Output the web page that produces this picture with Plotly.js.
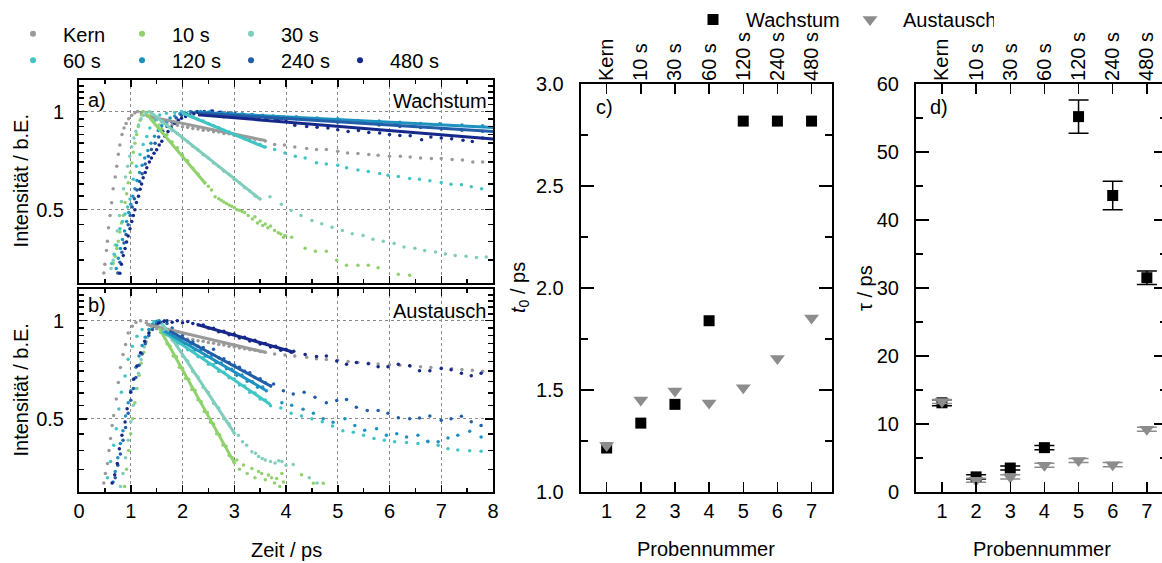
<!DOCTYPE html>
<html>
<head>
<meta charset="utf-8">
<script src="https://cdn.plot.ly/plotly-3.0.1.min.js"></script>
<style>html,body{margin:0;padding:0;overflow:hidden;background:#fff}#plot{width:1170px;height:563px}</style>
</head>
<body>
<div id="plot"></div>
<script>
// ---------- categories / labels ----------
const seriesNames = ['Kern','10 s','30 s','60 s','120 s','240 s','480 s'];
const seriesColors = ['#9a9a9a','#8fd16b','#7fcdbb','#41c4c4','#1d91c0','#225ea8','#16288a'];
const sampleNums = [1,2,3,4,5,6,7];
const sampleNames = ['Kern','10 s','30 s','60 s','120 s','240 s','480 s'];
const timeTicks = [0,1,2,3,4,5,6,7,8];
const intTicks = [0.5,1];
const intTickText = ['0.5','1'];
const intMinorTicks = [0.35,0.4,0.45,0.55,0.6,0.65,0.7,0.75,0.8,0.85,0.9,0.95,1.05,1.1,1.15,1.2];

// ---------- panel c / d values ----------
const t0Wachstum = [1.215,1.337,1.429,1.839,2.818,2.818,2.818];
const t0Austausch = [1.227,1.45,1.494,1.436,1.51,1.654,1.852];
const tauWachstum = [13.1,2.2,3.5,6.5,55.2,43.6,31.5];
const tauWachstumErr = [0.45,0.3,0.3,0.3,2.45,2.1,1.0];
const tauAustausch = [13.3,1.7,2.2,3.9,4.6,4.0,9.2];
const tauAustauschErr = [0.3,0.3,0.3,0.3,0.3,0.3,0.3];

// ---------- panel a (Wachstum) ----------
const W_kern_riseT = [0.48,0.50,0.53,0.55,0.57,0.60,0.63,0.66,0.70,0.73,0.76,0.79,0.83,0.87,0.91,0.96,1.02,1.08];
const W_kern_riseI = [0.32,0.34,0.375,0.40,0.44,0.48,0.525,0.58,0.63,0.68,0.74,0.79,0.85,0.89,0.92,0.95,0.975,0.99];
const W_kern_decT = [1.13,1.2,1.3,1.4,1.5,1.6,1.7,1.8,1.9,2.0,2.1,2.2,2.3,2.4,2.5,2.6,2.7,2.8,2.9,3.0,3.1,3.2,3.3,3.4,3.5,3.6];
const W_kern_decI = [1.0,0.99,0.977,0.958,0.946,0.93,0.924,0.912,0.908,0.898,0.896,0.887,0.885,0.877,0.876,0.867,0.866,0.857,0.855,0.846,0.844,0.834,0.831,0.822,0.82,0.812];
const W_kern_fitT = [1.3,3.6];
const W_kern_fitI = [0.97,0.815];
const W_kern_tailT = [3.78,3.97,4.17,4.40,4.59,4.78,5.0,5.19,5.39,5.60,5.78,6.0,6.21,6.40,6.60,6.81,7.0,7.21,7.41,7.61,7.80];
const W_kern_tailI = [0.792,0.79,0.779,0.77,0.765,0.765,0.756,0.747,0.744,0.739,0.735,0.73,0.73,0.726,0.721,0.718,0.718,0.713,0.71,0.70,0.70];

const W_10_riseT = [0.66,0.70,0.73,0.76,0.79,0.82,0.855,0.89,0.92,0.95,0.99,1.02,1.05,1.08,1.115,1.145,1.18,1.21];
const W_10_riseI = [0.342,0.36,0.38,0.40,0.427,0.455,0.48,0.526,0.56,0.605,0.65,0.696,0.75,0.80,0.85,0.90,0.94,0.976];
const W_10_decT = [1.24,1.3,1.37,1.47,1.55,1.6,1.7,1.8,1.9,2.0,2.1,2.2,2.3,2.43,2.5,2.56,2.63,2.7,2.75,2.8,2.85,2.9,2.95,3.0,3.05,3.1,3.15,3.2,3.27,3.35,3.4,3.45,3.5,3.55,3.6,3.65,3.7,3.78,3.85,3.9,3.95,3.98];
const W_10_decI = [1.0,0.99,0.97,0.943,0.91,0.888,0.85,0.806,0.775,0.736,0.706,0.67,0.644,0.605,0.59,0.575,0.548,0.54,0.535,0.528,0.522,0.517,0.512,0.508,0.5,0.498,0.494,0.49,0.48,0.468,0.476,0.455,0.462,0.447,0.452,0.44,0.446,0.432,0.425,0.421,0.412,0.417];
const W_10_fitT = [1.3,2.45];
const W_10_fitI = [0.985,0.60];
const W_10_tailT = [4.11,4.37,4.57,4.78,4.98,5.17,5.39,5.59,5.78,6.17,6.39];
const W_10_tailI = [0.412,0.381,0.373,0.373,0.35,0.338,0.338,0.338,0.332,0.317,0.315];

const W_30_riseT = [0.62,0.66,0.70,0.74,0.78,0.82,0.86,0.90,0.94,0.98,1.02,1.06,1.10,1.15,1.20,1.25,1.30];
const W_30_riseI = [0.33,0.35,0.39,0.43,0.48,0.53,0.58,0.63,0.68,0.73,0.78,0.83,0.87,0.91,0.95,0.975,0.99];
const W_30_decT = [1.36,1.4,1.5,1.6,1.7,1.8,1.9,2.0,2.1,2.2,2.3,2.4,2.5,2.6,2.7,2.8,2.9,3.0,3.1,3.2,3.3,3.4,3.5];
const W_30_decI = [1.0,0.989,0.962,0.93,0.907,0.877,0.856,0.828,0.808,0.781,0.763,0.737,0.72,0.695,0.679,0.656,0.641,0.619,0.605,0.584,0.571,0.551,0.539];
const W_30_fitT = [1.4,3.5];
const W_30_fitI = [0.99,0.539];
const W_30_tailT = [3.69,3.91,4.10,4.29,4.50,4.69,4.89,5.09,5.28,5.49,5.68,5.88,6.09,6.28,6.49,6.68,6.89,7.08,7.27,7.48,7.68,7.87];
const W_30_tailI = [0.548,0.52,0.497,0.48,0.463,0.453,0.442,0.432,0.422,0.417,0.406,0.40,0.394,0.384,0.381,0.375,0.371,0.366,0.362,0.36,0.357,0.358];

const W_60_riseT = [0.63,0.68,0.73,0.79,0.84,0.89,0.94,0.985,1.05,1.11,1.18,1.24,1.31,1.37,1.47,1.56,1.69,1.85];
const W_60_riseI = [0.342,0.365,0.389,0.437,0.46,0.485,0.51,0.539,0.62,0.68,0.738,0.792,0.839,0.89,0.943,0.976,0.988,0.993];
const W_60_decT = [1.98,2.05,2.11,2.2,2.3,2.4,2.5,2.6,2.7,2.8,2.9,3.0,3.1,3.2,3.3,3.4,3.5,3.6];
const W_60_decI = [1.0,0.99,0.976,0.963,0.946,0.935,0.918,0.905,0.892,0.877,0.866,0.852,0.84,0.826,0.815,0.802,0.792,0.778];
const W_60_fitT = [2.0,3.6];
const W_60_fitI = [0.99,0.776];
const W_60_tailT = [3.78,3.98,4.18,4.37,4.59,4.78,5.0,5.17,5.39,5.59,5.81,5.97,6.17,6.39,6.58,6.78,7.0,7.19,7.39,7.58,7.78];
const W_60_tailI = [0.765,0.747,0.73,0.72,0.697,0.69,0.684,0.673,0.662,0.655,0.646,0.638,0.632,0.623,0.62,0.613,0.606,0.599,0.596,0.588,0.58];

const W_120_riseT = [0.72,0.76,0.8,0.84,0.88,0.92,0.96,1.0,1.04,1.08,1.12,1.17,1.22,1.27,1.33,1.39,1.46,1.53,1.6,1.68,1.76,1.85,1.95,2.05,2.15,2.25];
const W_120_riseI = [0.33,0.355,0.38,0.405,0.43,0.46,0.49,0.52,0.55,0.58,0.615,0.65,0.685,0.72,0.76,0.8,0.84,0.875,0.905,0.93,0.955,0.97,0.985,0.99,1.0,0.995];
const W_120_decT = [2.35,2.45,2.55,2.65,2.75,2.85,2.95,3.05,3.15,3.25,3.35,3.45,3.55,3.65,3.75,3.85,3.95];
const W_120_decI = [1.0,0.99,1.005,0.985,0.995,0.98,0.99,0.975,0.985,0.97,0.98,0.968,0.975,0.965,0.97,0.96,0.962];
const W_120_fitT = [2.3,8.0];
const W_120_fitI = [0.995,0.894];
const W_120_tailT = [4.2,4.6,5.0,5.39,5.8,6.2,6.6,6.97,7.4,7.8];
const W_120_tailI = [0.965,0.955,0.95,0.939,0.935,0.928,0.92,0.917,0.91,0.905];

const W_240_riseT = [0.75,0.79,0.83,0.87,0.91,0.95,0.99,1.03,1.07,1.12,1.17,1.22,1.28,1.34,1.4,1.47,1.54,1.62,1.7,1.79,1.88,1.98,2.08,2.18,2.28];
const W_240_riseI = [0.32,0.345,0.37,0.395,0.42,0.45,0.48,0.51,0.54,0.575,0.61,0.645,0.69,0.73,0.765,0.8,0.835,0.87,0.9,0.93,0.955,0.975,0.985,0.995,1.0];
const W_240_decT = [2.3,2.4,2.5,2.6,2.7,2.8,2.9,3.0,3.1,3.2,3.3,3.4,3.5,3.6,3.7,3.8,3.9,4.0];
const W_240_decI = [0.995,0.985,0.995,0.975,0.99,0.97,0.98,0.965,0.975,0.96,0.97,0.955,0.965,0.95,0.96,0.948,0.955,0.945];
const W_240_fitT = [2.3,8.0];
const W_240_fitI = [0.99,0.869];
const W_240_tailT = [4.2,4.6,5.0,5.4,5.8,6.2,6.6,7.0,7.4,7.8];
const W_240_tailI = [0.95,0.94,0.928,0.925,0.91,0.9,0.893,0.885,0.876,0.87];

const W_480_riseT = [0.79,0.82,0.855,0.89,0.92,0.95,0.985,1.02,1.05,1.08,1.11,1.15,1.18,1.21,1.24,1.28,1.31,1.36,1.40,1.45,1.50,1.55,1.60,1.66,1.72,1.78,1.85,1.92,1.98,2.06,2.14,2.22,2.30];
const W_480_riseI = [0.319,0.34,0.362,0.38,0.398,0.415,0.437,0.46,0.48,0.50,0.526,0.55,0.578,0.60,0.627,0.65,0.672,0.70,0.721,0.745,0.764,0.79,0.811,0.84,0.869,0.895,0.921,0.94,0.954,0.966,0.976,0.985,0.993];
const W_480_decT = [2.35,2.42,2.5,2.58,2.65,2.72,2.8,2.88,2.95,3.02,3.1,3.18,3.25,3.33,3.4,3.48,3.55,3.63,3.7,3.78,3.85,3.92,4.0];
const W_480_decI = [0.99,1.0,0.985,1.005,0.975,0.995,0.965,0.99,0.97,0.985,0.96,0.98,0.955,0.975,0.965,0.95,0.97,0.945,0.96,0.955,0.94,0.952,0.945];
const W_480_fitT = [2.3,8.0];
const W_480_fitI = [0.977,0.824];
const W_480_tailT = [4.17,4.4,4.6,4.81,5.0,5.2,5.4,5.6,5.81,6.0,6.2,6.4,6.62,6.8,7.0,7.2,7.42,7.6,7.8];
const W_480_tailI = [0.908,0.9,0.895,0.89,0.88,0.869,0.875,0.862,0.859,0.85,0.845,0.843,0.82,0.835,0.83,0.826,0.816,0.81,0.83];

// ---------- panel b (Austausch) ----------
const A_kern_riseT = [0.48,0.51,0.55,0.58,0.61,0.64,0.67,0.72,0.76,0.80,0.85,0.90,0.95,1.03,1.10];
const A_kern_riseI = [0.318,0.34,0.365,0.40,0.435,0.477,0.512,0.575,0.646,0.718,0.788,0.845,0.917,0.961,0.988];
const A_kern_decT = [1.19,1.3,1.4,1.5,1.6,1.7,1.8,1.9,2.0,2.1,2.2,2.3,2.4,2.5,2.6,2.7,2.8,2.9,3.0,3.1,3.2,3.3,3.4,3.5,3.6];
const A_kern_decI = [1.0,0.985,0.962,0.945,0.93,0.916,0.902,0.894,0.886,0.879,0.875,0.868,0.865,0.857,0.853,0.846,0.843,0.835,0.831,0.824,0.821,0.814,0.811,0.804,0.80];
const A_kern_fitT = [1.3,3.6];
const A_kern_fitI = [0.975,0.80];
const A_kern_tailT = [3.78,3.98,4.17,4.4,4.59,4.78,5.0,5.2,5.39,5.6,5.78,6.0,6.2,6.4,6.6,6.8,7.0,7.2,7.4,7.6,7.8];
const A_kern_tailI = [0.79,0.785,0.78,0.772,0.765,0.76,0.757,0.75,0.745,0.741,0.737,0.733,0.73,0.726,0.722,0.719,0.716,0.712,0.708,0.705,0.70];

const A_10_riseT = [0.88,0.92,0.96,1.0,1.04,1.08,1.12,1.16,1.2,1.25,1.3,1.36,1.42,1.48];
const A_10_riseI = [0.31,0.35,0.40,0.45,0.5,0.56,0.62,0.68,0.74,0.8,0.86,0.92,0.96,0.99];
const A_10_decT = [1.52,1.58,1.64,1.7,1.76,1.82,1.88,1.94,2.0,2.06,2.12,2.18,2.24,2.3,2.36,2.42,2.48,2.54,2.6,2.66,2.72,2.78,2.84,2.9,2.96,3.0,3.05,3.1,3.18,3.25,3.34,3.4,3.47,3.53,3.6,3.66,3.72,3.78,3.82,3.88,3.92,3.95];
const A_10_decI = [0.97,0.92,0.905,0.85,0.835,0.78,0.775,0.72,0.715,0.665,0.66,0.615,0.612,0.572,0.565,0.527,0.523,0.488,0.482,0.45,0.446,0.416,0.412,0.386,0.38,0.367,0.374,0.35,0.361,0.34,0.352,0.33,0.345,0.34,0.325,0.336,0.33,0.318,0.328,0.31,0.34,0.32];
const A_10_fitT = [1.55,3.0];
const A_10_fitI = [0.95,0.367];
const A_10_tailT = [4.3,4.53,4.72];
const A_10_tailI = [0.337,0.317,0.317];

const A_30_riseT = [0.8,0.85,0.9,0.95,1.0,1.05,1.1,1.15,1.2,1.26,1.32,1.38,1.45,1.52];
const A_30_riseI = [0.31,0.34,0.38,0.43,0.49,0.55,0.62,0.69,0.76,0.83,0.89,0.94,0.98,1.0];
const A_30_decT = [1.6,1.7,1.8,1.9,2.0,2.1,2.2,2.3,2.4,2.5,2.6,2.7,2.8,2.9,3.0,3.08,3.16,3.24,3.34,3.41,3.47,3.54,3.6,3.7,3.79,3.86,3.92,4.0,4.14];
const A_30_decI = [0.975,0.935,0.872,0.84,0.78,0.752,0.698,0.672,0.625,0.602,0.558,0.54,0.5,0.483,0.452,0.445,0.425,0.415,0.396,0.392,0.383,0.378,0.374,0.37,0.366,0.372,0.37,0.36,0.362];
const A_30_fitT = [1.6,3.0];
const A_30_fitI = [0.983,0.453];
const A_30_tailT = [4.45,4.6];
const A_30_tailI = [0.33,0.318];

const A_60_riseT = [0.55,0.61,0.67,0.72,0.77,0.82,0.89,0.95,1.03,1.12,1.22,1.35,1.45];
const A_60_riseI = [0.33,0.37,0.415,0.466,0.536,0.603,0.677,0.761,0.835,0.896,0.939,0.972,0.995];
const A_60_decT = [1.5,1.6,1.7,1.8,1.9,2.0,2.1,2.2,2.3,2.4,2.5,2.6,2.7,2.8,2.9,3.0,3.1,3.2,3.3,3.4,3.5,3.6,3.7];
const A_60_decI = [0.99,0.945,0.905,0.89,0.855,0.848,0.815,0.808,0.775,0.77,0.735,0.733,0.7,0.695,0.668,0.662,0.635,0.63,0.603,0.6,0.575,0.571,0.548];
const A_60_fitT = [1.6,3.7];
const A_60_fitI = [0.93,0.553];
const A_60_tailT = [3.9,4.1,4.3,4.5,4.7,4.9,5.1,5.3,5.5,5.7,5.9,6.1,6.33,6.55,6.74,6.94,7.13,7.32,7.55,7.77];
const A_60_tailI = [0.54,0.52,0.51,0.50,0.49,0.475,0.46,0.455,0.445,0.435,0.43,0.425,0.423,0.42,0.425,0.415,0.405,0.401,0.399,0.398];

const A_120_riseT = [0.66,0.7,0.75,0.8,0.85,0.9,0.95,1.0,1.05,1.1,1.16,1.22,1.28,1.35,1.42,1.5];
const A_120_riseI = [0.32,0.345,0.38,0.42,0.46,0.51,0.56,0.61,0.66,0.72,0.78,0.84,0.89,0.94,0.975,0.995];
const A_120_decT = [1.55,1.65,1.75,1.85,1.95,2.05,2.15,2.25,2.35,2.45,2.55,2.65,2.75,2.85,2.95,3.05,3.15,3.25,3.35,3.45,3.55,3.62];
const A_120_decI = [1.0,0.95,0.925,0.89,0.88,0.85,0.845,0.815,0.81,0.78,0.775,0.745,0.742,0.712,0.71,0.68,0.682,0.652,0.65,0.625,0.626,0.61];
const A_120_fitT = [1.65,3.6];
const A_120_fitI = [0.93,0.613];
const A_120_tailT = [3.92,4.11,4.33,4.53,4.72,4.91,5.14,5.33,5.52,5.75,5.94,6.14,6.33,6.55,6.74,6.94,7.13,7.32,7.55,7.77];
const A_120_tailI = [0.56,0.55,0.535,0.52,0.50,0.488,0.5,0.477,0.461,0.466,0.445,0.45,0.44,0.445,0.427,0.425,0.437,0.445,0.458,0.44];

const A_240_riseT = [0.7,0.75,0.8,0.85,0.9,0.95,1.0,1.05,1.1,1.16,1.22,1.28,1.35,1.42,1.5,1.58,1.65];
const A_240_riseI = [0.33,0.36,0.39,0.43,0.47,0.52,0.57,0.62,0.67,0.73,0.79,0.85,0.9,0.94,0.975,0.99,1.0];
const A_240_decT = [1.7,1.8,1.9,2.0,2.1,2.2,2.3,2.4,2.5,2.6,2.7,2.8,2.9,3.0,3.1,3.2,3.3,3.4,3.5,3.6,3.7,3.76];
const A_240_decI = [0.98,0.95,0.925,0.9,0.87,0.86,0.835,0.828,0.8,0.817,0.77,0.765,0.745,0.73,0.72,0.7,0.692,0.67,0.664,0.645,0.632,0.64];
const A_240_fitT = [1.75,3.73];
const A_240_fitI = [0.93,0.627];
const A_240_tailT = [3.95,4.14,4.35,4.56,4.78,4.98,5.17,5.36,5.57,5.78,5.97,6.17,6.39,6.58,6.78,7.0,7.19,7.39,7.58,7.77];
const A_240_tailI = [0.61,0.596,0.603,0.582,0.56,0.569,0.573,0.543,0.53,0.53,0.52,0.504,0.50,0.503,0.51,0.495,0.50,0.509,0.49,0.477];

const A_480_riseT = [0.64,0.69,0.74,0.78,0.83,0.89,0.93,1.0,1.06,1.12,1.19,1.27,1.35,1.45,1.54,1.64];
const A_480_riseI = [0.318,0.337,0.365,0.405,0.445,0.489,0.537,0.603,0.662,0.726,0.798,0.865,0.917,0.961,0.984,0.995];
const A_480_decT = [1.7,1.8,1.9,2.0,2.1,2.2,2.3,2.4,2.5,2.6,2.7,2.8,2.9,3.0,3.1,3.2,3.3,3.4,3.5,3.6,3.7,3.8,3.9,4.0,4.1,4.15];
const A_480_decI = [1.0,0.99,1.0,0.985,0.995,0.98,0.972,0.97,0.95,0.948,0.925,0.928,0.905,0.91,0.885,0.89,0.866,0.871,0.848,0.852,0.83,0.835,0.812,0.818,0.8,0.806];
const A_480_fitT = [2.3,4.15];
const A_480_fitI = [0.972,0.80];
const A_480_tailT = [4.37,4.59,4.78,4.98,5.17,5.36,5.59,5.78,5.97,6.17,6.39,6.58,6.78,7.0,7.19,7.39,7.58,7.77];
const A_480_tailI = [0.788,0.776,0.779,0.752,0.735,0.744,0.738,0.723,0.723,0.735,0.727,0.702,0.702,0.713,0.707,0.69,0.678,0.69];

// ---------- build ----------
const W = 1170, H = 563;
const FONT = 'Liberation Sans, Arial, Helvetica, sans-serif';
const px = v => v / W;
const py = v => 1 - v / H;

const traces = [];
function dots(x, y, c, xa, ya) {
  traces.push({type:'scatter', mode:'markers', x:x, y:y, xaxis:xa, yaxis:ya,
    marker:{color:c, size:3.5, line:{width:0}}, showlegend:false, hoverinfo:'skip', cliponaxis:true});
}
function fit(x, y, c, xa, ya) {
  traces.push({type:'scatter', mode:'lines', x:x, y:y, xaxis:xa, yaxis:ya,
    line:{color:c, width:3}, showlegend:false, hoverinfo:'skip'});
}

const wSets = [
  [W_kern_riseT,W_kern_riseI,W_kern_decT,W_kern_decI,W_kern_fitT,W_kern_fitI,W_kern_tailT,W_kern_tailI],
  [W_10_riseT,W_10_riseI,W_10_decT,W_10_decI,W_10_fitT,W_10_fitI,W_10_tailT,W_10_tailI],
  [W_30_riseT,W_30_riseI,W_30_decT,W_30_decI,W_30_fitT,W_30_fitI,W_30_tailT,W_30_tailI],
  [W_60_riseT,W_60_riseI,W_60_decT,W_60_decI,W_60_fitT,W_60_fitI,W_60_tailT,W_60_tailI],
  [W_120_riseT,W_120_riseI,W_120_decT,W_120_decI,W_120_fitT,W_120_fitI,W_120_tailT,W_120_tailI],
  [W_240_riseT,W_240_riseI,W_240_decT,W_240_decI,W_240_fitT,W_240_fitI,W_240_tailT,W_240_tailI],
  [W_480_riseT,W_480_riseI,W_480_decT,W_480_decI,W_480_fitT,W_480_fitI,W_480_tailT,W_480_tailI]
];
const aSets = [
  [A_kern_riseT,A_kern_riseI,A_kern_decT,A_kern_decI,A_kern_fitT,A_kern_fitI,A_kern_tailT,A_kern_tailI],
  [A_10_riseT,A_10_riseI,A_10_decT,A_10_decI,A_10_fitT,A_10_fitI,A_10_tailT,A_10_tailI],
  [A_30_riseT,A_30_riseI,A_30_decT,A_30_decI,A_30_fitT,A_30_fitI,A_30_tailT,A_30_tailI],
  [A_60_riseT,A_60_riseI,A_60_decT,A_60_decI,A_60_fitT,A_60_fitI,A_60_tailT,A_60_tailI],
  [A_120_riseT,A_120_riseI,A_120_decT,A_120_decI,A_120_fitT,A_120_fitI,A_120_tailT,A_120_tailI],
  [A_240_riseT,A_240_riseI,A_240_decT,A_240_decI,A_240_fitT,A_240_fitI,A_240_tailT,A_240_tailI],
  [A_480_riseT,A_480_riseI,A_480_decT,A_480_decI,A_480_fitT,A_480_fitI,A_480_tailT,A_480_tailI]
];
[[wSets,'x','y'],[aSets,'x2','y2']].forEach(([sets, xa, ya]) => {
  sets.forEach((s, i) => { dots(s[6], s[7], seriesColors[i], xa, ya); });
  sets.forEach((s, i) => { dots(s[0], s[1], seriesColors[i], xa, ya); dots(s[2], s[3], seriesColors[i], xa, ya); });
  sets.forEach((s, i) => { fit(s[4], s[5], seriesColors[i], xa, ya); });
});

// legend entries (top left)
seriesNames.forEach((n, i) => {
  traces.push({type:'scatter', mode:'markers', x:[null], y:[null], xaxis:'x', yaxis:'y', name:n,
    marker:{color:seriesColors[i], size:6}, showlegend:true, legend: i < 3 ? 'legend' : 'legend3', hoverinfo:'skip'});
});

// panel c
traces.push({type:'scatter', mode:'markers', x:sampleNums, y:t0Wachstum, xaxis:'x3', yaxis:'y3', name:'Wachstum',
  marker:{symbol:'square', color:'black', size:11}, legend:'legend2', showlegend:true, hoverinfo:'skip', cliponaxis:false});
traces.push({type:'scatter', mode:'markers', x:sampleNums, y:t0Austausch, xaxis:'x3', yaxis:'y3', name:'Austausch',
  marker:{symbol:'triangle-down', color:'#8c8c8c', size:13}, legend:'legend2', showlegend:true, hoverinfo:'skip', cliponaxis:false});
traces.push({type:'scatter', mode:'markers', x:[null], y:[null], xaxis:'x4', yaxis:'y3', showlegend:false, hoverinfo:'skip'});
// panel d
traces.push({type:'scatter', mode:'markers', x:sampleNums, y:tauWachstum, xaxis:'x5', yaxis:'y5', showlegend:false,
  marker:{symbol:'square', color:'black', size:11},
  error_y:{type:'data', array:tauWachstumErr, visible:true, color:'black', thickness:1.5, width:10}, hoverinfo:'skip', cliponaxis:false});
traces.push({type:'scatter', mode:'markers', x:sampleNums, y:tauAustausch, xaxis:'x5', yaxis:'y5', showlegend:false,
  marker:{symbol:'triangle-down', color:'#8c8c8c', size:13},
  error_y:{type:'data', array:tauAustauschErr, visible:true, color:'#8c8c8c', thickness:1.5, width:10}, hoverinfo:'skip', cliponaxis:false});
traces.push({type:'scatter', mode:'markers', x:[null], y:[null], xaxis:'x6', yaxis:'y5', showlegend:false, hoverinfo:'skip'});

const tf = {family:FONT, size:20, color:'black'};
const base = {showline:true, linecolor:'black', linewidth:2, mirror:'ticks', ticks:'inside', tickcolor:'black',
  tickwidth:1.5, zeroline:false, tickfont:tf, fixedrange:true, showgrid:false};
const gridStyle = {showgrid:true, gridcolor:'#8a8a8a', griddash:'dot', gridwidth:1};

const timeAxis = (dom, anchor, labels) => Object.assign({}, base, gridStyle, {
  domain:dom, anchor:anchor, range:[0,8], tickmode:'array', tickvals:timeTicks, ticklen:7,
  showticklabels:labels, ticklabelstandoff:0,
  minor:{ticks:'inside', tickmode:'linear', tick0:0, dtick:0.5, ticklen:4, tickcolor:'black', tickwidth:1.5, showgrid:false}
});
const intAxis = (dom, anchor) => Object.assign({}, base, gridStyle, {
  domain:dom, anchor:anchor, type:'log', range:[Math.log10(0.299), Math.log10(1.247)],
  tickmode:'array', tickvals:intTicks, ticktext:intTickText, ticklen:8, ticklabelstandoff:9,
  minor:{ticks:'inside', tickmode:'array', tickvals:intMinorTicks, ticklen:5, tickcolor:'black', tickwidth:1.5, showgrid:false}
});
const catAxis = (dom, anchor) => Object.assign({}, base, {
  domain:dom, anchor:anchor, range:[0.24,7.59], tickmode:'array', tickvals:sampleNums,
  ticktext:sampleNums.map(String), ticklen:10, ticklabelstandoff:0
});
const topAxis = (over, anchor) => ({
  overlaying:over, anchor:anchor, side:'top', range:[0.24,7.59], tickmode:'array', tickvals:sampleNums,
  ticktext:sampleNames, tickangle:-90, ticks:'', showline:false, showgrid:false, zeroline:false,
  tickfont:tf, fixedrange:true, ticklabelstandoff:2
});

const cDom = [px(580.7), px(831.7)], dDom = [px(916), px(1167)];
const cdY = [py(491.2), py(79.7)];

const ann = (text, x, y, opts) => Object.assign({text:text, x:x, y:y, xref:'paper', yref:'paper', showarrow:false,
  font:tf, xanchor:'center', yanchor:'middle'}, opts || {});

const layout = {
  width:W, height:H, margin:{l:0, r:0, t:0, b:0}, paper_bgcolor:'white', plot_bgcolor:'white',
  hovermode:false, font:{family:FONT, size:20, color:'black'},
  xaxis: timeAxis([px(79), px(493)], 'y', false),
  yaxis: intAxis([py(280), py(76)], 'x'),
  xaxis2: timeAxis([px(79), px(493)], 'y2', true),
  yaxis2: intAxis([py(491), py(287)], 'x2'),
  xaxis3: catAxis(cDom, 'y3'),
  xaxis4: topAxis('x3', 'y3'),
  yaxis3: Object.assign({}, base, {domain:cdY, anchor:'x3', range:[1,3], tickmode:'linear', tick0:1, dtick:0.5,
    tickformat:'.1f', ticklen:13, ticklabelstandoff:11,
    minor:{ticks:'inside', tickmode:'linear', tick0:1, dtick:0.25, ticklen:7, tickcolor:'black', tickwidth:1.5}}),
  xaxis5: catAxis(dDom, 'y5'),
  xaxis6: topAxis('x5', 'y5'),
  yaxis5: Object.assign({}, base, {domain:cdY, anchor:'x5', range:[0,60], tickmode:'linear', tick0:0, dtick:10,
    ticklen:13, ticklabelstandoff:11,
    minor:{ticks:'inside', tickmode:'linear', tick0:0, dtick:5, ticklen:7, tickcolor:'black', tickwidth:1.5}}),
  legend: {orientation:'h', x:px(3), y:py(29), xanchor:'left', yanchor:'middle', bgcolor:'rgba(0,0,0,0)',
    font:tf, itemwidth:50, entrywidth:44, entrywidthmode:'pixels', traceorder:'normal', itemclick:false},
  legend3: {orientation:'h', x:px(3), y:py(55.7), xanchor:'left', yanchor:'middle', bgcolor:'rgba(0,0,0,0)',
    font:tf, itemwidth:50, entrywidth:44, entrywidthmode:'pixels', traceorder:'normal', itemclick:false},
  legend2: {orientation:'h', x:px(680), y:py(14.5), xanchor:'left', yanchor:'middle', bgcolor:'rgba(0,0,0,0)',
    font:tf, itemwidth:56, entrywidth:86, entrywidthmode:'pixels', traceorder:'normal', itemclick:false},
  annotations: [
    ann('Intensität / b.E.', px(21), py(178), {textangle:-90}),
    ann('Intensität / b.E.', px(21), py(389), {textangle:-90}),
    ann('Zeit / ps', px(286), py(550)),
    ann('Probennummer', px(706), py(549)),
    ann('Probennummer', px(1041.5), py(549)),
    ann('<i>t</i><sub>0</sub> / ps', px(520), py(285.5), {textangle:-90}),
    ann('τ / ps', px(865), py(285.5), {textangle:-90}),
    ann('a)', px(86), py(96), {xanchor:'left'}),
    ann('Wachstum', px(489), py(97), {xanchor:'right'}),
    ann('b)', px(86), py(303), {xanchor:'left'}),
    ann('Austausch', px(488), py(309), {xanchor:'right'}),
    ann('c)', px(594), py(103), {xanchor:'left'}),
    ann('d)', px(928), py(103), {xanchor:'left'})
  ]
};

Plotly.newPlot('plot', traces, layout, {displayModeBar:false, staticPlot:true});
</script>
</body>
</html>
